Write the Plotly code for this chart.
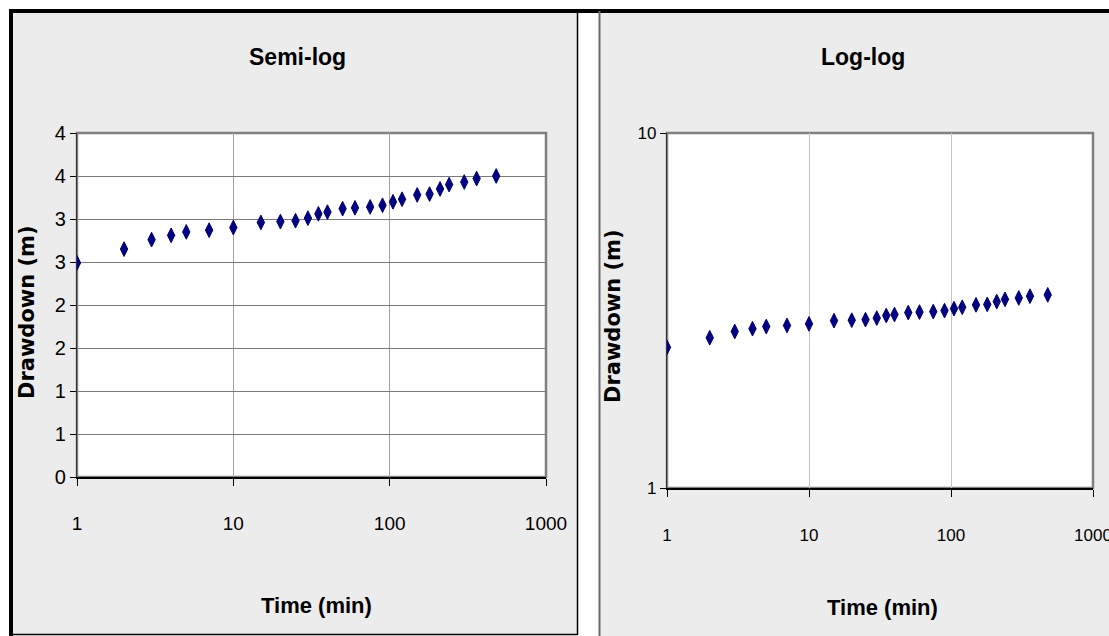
import plotly.graph_objects as go

# ---------------- data ----------------
time_min = [1, 2, 3, 4, 5, 7, 10, 15, 20, 25, 30, 35, 40, 50, 60, 75, 90,
            105, 120, 150, 180, 210, 240, 300, 360, 480]
drawdown_m = [2.49, 2.65, 2.76, 2.81, 2.85, 2.87, 2.90, 2.96, 2.97, 2.98, 3.01,
              3.06, 3.08, 3.12, 3.13, 3.14, 3.16, 3.20, 3.23, 3.28, 3.29, 3.35,
              3.40, 3.43, 3.47, 3.50]

x_tick_vals = [1, 10, 100, 1000]
x_tick_text = ["1", "10", "100", "1000"]
semi_y_tick_vals = [0, 0.5, 1, 1.5, 2, 2.5, 3, 3.5, 4]
semi_y_tick_text = ["0", "1", "1", "2", "2", "3", "3", "4", "4"]
log_y_tick_vals = [1, 10]
log_y_tick_text = ["1", "10"]

title_left = "Semi-log"
title_right = "Log-log"
x_title = "Time (min)"
y_title = "Drawdown (m)"

# ---------------- layout helpers ----------------
W, H = 1109, 636


def px(x):
    return x / W


def py(y):
    return 1 - y / H


NARROW = "Liberation Sans Narrow, Arial Narrow, Liberation Sans, Arial, sans-serif"
WIDE_BOLD = "DejaVu Sans, Verdana, sans-serif"
MARK = "#000080"
PANEL = "#ececec"

L = dict(x0=77, x1=546, y0=133, y1=477)      # left plot area (pixels)
R = dict(x0=667, x1=1093, y0=133, y1=488)    # right plot area (pixels)

fig = go.Figure()

fig.add_trace(go.Scatter(
    x=time_min, y=drawdown_m, mode="markers", xaxis="x", yaxis="y",
    marker=dict(symbol="diamond-tall", size=10.5, color=MARK,
                line=dict(color=MARK, width=1)),
    showlegend=False, hoverinfo="x+y"))
fig.add_trace(go.Scatter(
    x=time_min, y=drawdown_m, mode="markers", xaxis="x2", yaxis="y2",
    marker=dict(symbol="diamond-tall", size=10.5, color=MARK,
                line=dict(color=MARK, width=1)),
    showlegend=False, hoverinfo="x+y"))

shapes = []
# panel backgrounds
shapes.append(dict(type="rect", xref="paper", yref="paper", layer="below",
                   x0=px(10), x1=px(578), y0=py(635), y1=py(10),
                   fillcolor=PANEL, line=dict(width=0)))
shapes.append(dict(type="rect", xref="paper", yref="paper", layer="below",
                   x0=px(599), x1=px(1109), y0=py(636), y1=py(10),
                   fillcolor=PANEL, line=dict(width=0)))
# white plot areas with gray frame
for a in (L, R):
    shapes.append(dict(type="rect", xref="paper", yref="paper", layer="below",
                       x0=px(a["x0"]), x1=px(a["x1"]), y0=py(a["y1"]), y1=py(a["y0"]),
                       fillcolor="white", line=dict(color="#808080", width=2.5)))
# borders
shapes.append(dict(type="rect", xref="paper", yref="paper", layer="above",
                   x0=px(9), x1=px(1109), y0=py(13), y1=py(9),
                   fillcolor="black", line=dict(width=0)))
shapes.append(dict(type="rect", xref="paper", yref="paper", layer="above",
                   x0=px(9), x1=px(13), y0=py(636), y1=py(9),
                   fillcolor="black", line=dict(width=0)))
shapes.append(dict(type="line", xref="paper", yref="paper", layer="above",
                   x0=px(577.5), x1=px(577.5), y0=py(635), y1=py(11),
                   line=dict(color="black", width=1.5)))
shapes.append(dict(type="line", xref="paper", yref="paper", layer="above",
                   x0=px(10), x1=px(578), y0=py(634.5), y1=py(634.5),
                   line=dict(color="black", width=1.5)))
shapes.append(dict(type="line", xref="paper", yref="paper", layer="above",
                   x0=px(599.5), x1=px(599.5), y0=py(636), y1=py(11),
                   line=dict(color="#6a6a6a", width=2)))

annotations = []


def ann(text, x, y, size, family, angle=0, bold=True):
    annotations.append(dict(
        text=f"<b>{text}</b>" if bold else text, x=px(x), y=py(y),
        xref="paper", yref="paper", xanchor="center", yanchor="middle",
        showarrow=False, textangle=angle,
        font=dict(size=size, family=family, color="black")))


ann(title_left, 297, 57, 23, NARROW)
ann(title_right, 863, 57, 23, NARROW)
ann(x_title, 316, 605, 22, NARROW)
ann(x_title, 882, 607, 22, NARROW)
ann(y_title, 27, 312, 21, WIDE_BOLD, angle=-90)
ann(y_title, 613, 316, 21, WIDE_BOLD, angle=-90)

common_x = dict(type="log", range=[0, 3], tickmode="array",
                tickvals=x_tick_vals, ticktext=x_tick_text,
                showline=True, linecolor="black", linewidth=1.5,
                ticks="outside", ticklen=7, tickcolor="black", tickwidth=1,
                zeroline=False, mirror=False, fixedrange=True,
                automargin=False, ticklabeloverflow="allow")

fig.update_layout(
    template="none",
    width=W, height=H,
    margin=dict(l=0, r=0, t=0, b=0, pad=0, autoexpand=False),
    paper_bgcolor="white", plot_bgcolor="rgba(0,0,0,0)",
    showlegend=False,
    shapes=shapes, annotations=annotations,
    xaxis=dict(**common_x, domain=[px(L["x0"]), px(L["x1"])], anchor="y",
               showgrid=True, gridcolor="#a0a0a0", gridwidth=1,
               tickfont=dict(family=NARROW, size=19, color="black"),
               ticklabelstandoff=21),
    yaxis=dict(type="linear", range=[0, 4], tickmode="array",
               tickvals=semi_y_tick_vals, ticktext=semi_y_tick_text,
               domain=[py(L["y1"]), py(L["y0"])], anchor="x",
               showline=True, linecolor="#333333", linewidth=1.2,
               ticks="outside", ticklen=6, tickcolor="black",
               showgrid=True, gridcolor="#7a7a7a", gridwidth=1,
               zeroline=False, fixedrange=True, automargin=False,
               tickfont=dict(family=NARROW, size=20, color="black")),
    xaxis2=dict(**common_x, domain=[px(R["x0"]), px(R["x1"])], anchor="y2",
                showgrid=True, gridcolor="#c4c4c4", gridwidth=1,
                tickfont=dict(family=NARROW, size=17, color="black"),
                ticklabelstandoff=24),
    yaxis2=dict(type="log", range=[0, 1], tickmode="array",
                tickvals=log_y_tick_vals, ticktext=log_y_tick_text,
                domain=[py(R["y1"]), py(R["y0"])], anchor="x2",
                showline=True, linecolor="#333333", linewidth=1.2,
                ticks="outside", ticklen=6, tickcolor="black",
                showgrid=False, zeroline=False, fixedrange=True,
                automargin=False,
                tickfont=dict(family=NARROW, size=17, color="black")),
)

fig.write_html(
    "out.html",
    config={"displayModeBar": False},
    post_script="document.body.style.margin='0';document.body.style.overflow='hidden';",
)
